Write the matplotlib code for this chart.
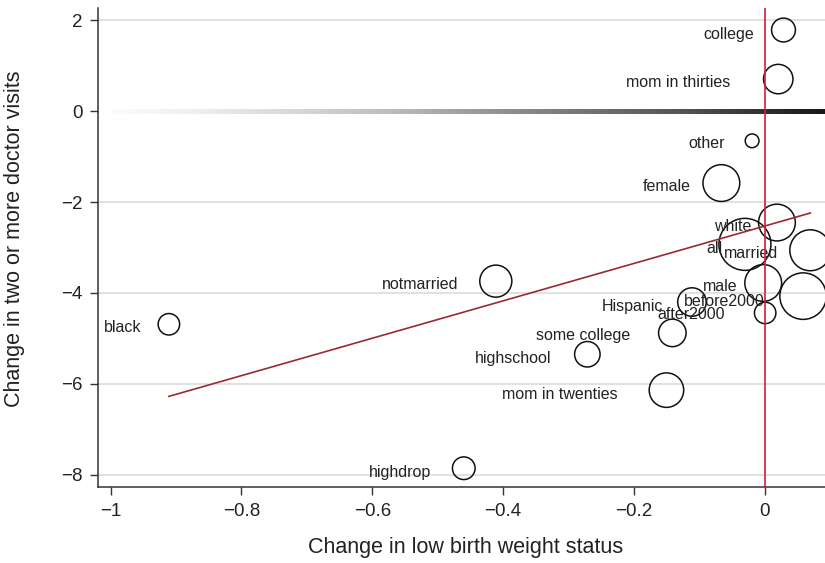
import numpy as np
import matplotlib
matplotlib.use('Agg')
from matplotlib import pyplot as plt

plt.rcParams['font.family'] = ['Liberation Sans', 'DejaVu Sans']

# group estimates: change in low birth weight (x), change in 2+ doctor visits (y)
groups = ['college', 'mom in thirties', 'other', 'female', 'white', 'all',
          'married', 'male', 'before2000', 'after2000', 'Hispanic',
          'some college', 'highschool', 'mom in twenties', 'notmarried',
          'black', 'highdrop']
dlbw = [0.029, 0.021, -0.019, -0.066, 0.019, -0.030, 0.070, -0.002, 0.059,
        0.001, -0.111, -0.141, -0.271, -0.150, -0.411, -0.911, -0.460]
dvisits = [1.79, 0.71, -0.65, -1.58, -2.45, -2.93, -3.06, -3.78, -4.07,
           -4.44, -4.20, -4.88, -5.35, -6.14, -3.74, -4.69, -7.86]
# relative sample share (all = 1)
weight = [0.21, 0.32, 0.07, 0.50, 0.50, 1.00, 0.62, 0.50, 0.80, 0.17, 0.30,
          0.28, 0.24, 0.44, 0.38, 0.17, 0.19]

fit_intercept = -2.528
fit_slope = 4.116

# label offsets in pixels (right edge of text relative to marker centre)
lab_dx = [-29, -48, -27, -31, -26, -22, -32, -26, -38, -40, -29, -42, -36,
          -49, -37, -27, -33]
lab_dy = [4, 3, 3, 3, 4, 4, 3, 4, 5, 2, 4, 3, 4, 4, 3, 3, 4]

W, H = 825, 563
left, right, top, bottom = 97.7, 825, 8, 487.3

fig = plt.figure(figsize=(W / 100, H / 100), dpi=100)
ax = fig.add_axes([left / W, 1 - bottom / H, (right - left) / W, (bottom - top) / H])

xmin, xmax = -1.0199, 0.0925
ymin, ymax = -8.28, 2.275

for yv in [2, -2, -4, -6, -8]:
    ax.axhline(yv, color='#d9d9d9', lw=1.1, zorder=0)

# shaded zero line (white -> near black)
grad = np.linspace(0.03, 0.92, 512).reshape(1, -1)
ax.imshow(grad, cmap='Greys', vmin=0, vmax=1, aspect='auto',
          extent=[-1.0, xmax, -0.055, 0.055], interpolation='bilinear',
          zorder=1)
ax.set_xlim(xmin, xmax)
ax.set_ylim(ymin, ymax)

w = np.array(weight)
ax.scatter(dlbw, dvisits, s=1402 * w, facecolors='none', edgecolors='#111111',
           linewidths=1.1, zorder=3)

for name, x, y, dx, dy in zip(groups, dlbw, dvisits, lab_dx, lab_dy):
    ax.annotate(name, (x, y), xytext=(dx, -dy), textcoords='offset pixels',
                ha='right', va='center', fontsize=11.5, color='#222222',
                zorder=4)

fx = np.array([min(dlbw), max(dlbw)])
ax.plot(fx, fit_intercept + fit_slope * fx, color='#9b2a30', lw=1.2, zorder=5)
ax.axvline(0, color='#cc1f3a', lw=1.2, zorder=5)

ax.spines['top'].set_visible(False)
ax.spines['right'].set_visible(False)
for sp in ['left', 'bottom']:
    ax.spines[sp].set_color('#333333')
    ax.spines[sp].set_linewidth(1.1)
ax.tick_params(direction='out', length=6, width=1.0, color='#333333',
               labelsize=13.5, labelcolor='#222222', pad=5)
ax.set_xticks([-1, -0.8, -0.6, -0.4, -0.2, 0])
ax.set_xticklabels(['\u22121', '\u22120.8', '\u22120.6', '\u22120.4',
                    '\u22120.2', '0'])
ax.set_yticks([2, 0, -2, -4, -6, -8])
ax.set_yticklabels(['2', '0', '\u22122', '\u22124', '\u22126', '\u22128'])

ax.set_xlabel('Change in low birth weight status', fontsize=15.5,
              color='#222222', va='center')
ax.set_ylabel('Change in two or more doctor visits', fontsize=15.5,
              color='#222222', va='center')
ax.xaxis.set_label_coords((466 - left) / (right - left), (bottom - 548) / (bottom - top))
ax.yaxis.set_label_coords((15 - left) / (right - left), (bottom - 239) / (bottom - top))

fig.savefig('out.png', dpi=100)
